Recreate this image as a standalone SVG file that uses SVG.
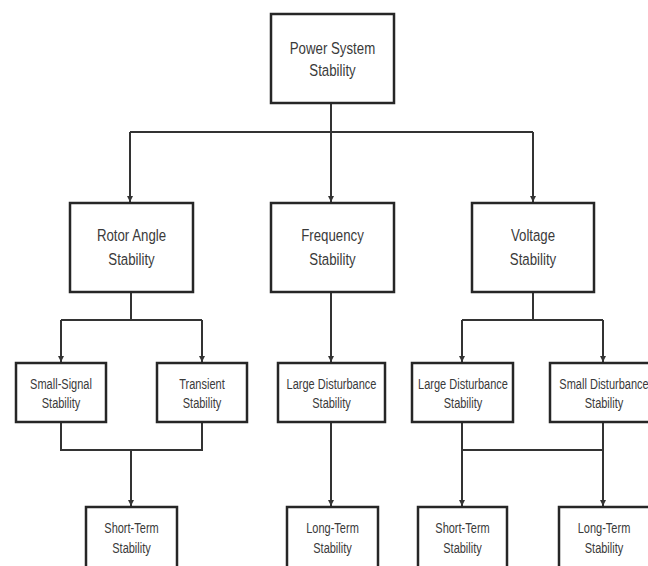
<svg xmlns="http://www.w3.org/2000/svg" width="648" height="566" viewBox="0 0 648 566">
<style>
.box{fill:#fff;stroke:#262626;stroke-width:2.5}
.ln{fill:none;stroke:#333;stroke-width:2}
.t1{font-family:"Liberation Sans",Arial,sans-serif;font-size:17px;fill:#3a3a3a;text-anchor:middle}
.t3{font-family:"Liberation Sans",Arial,sans-serif;font-size:14.5px;fill:#3a3a3a;text-anchor:middle}
</style>
<defs>
<marker id="a" markerWidth="8" markerHeight="8" refX="6" refY="4" orient="auto" markerUnits="userSpaceOnUse" viewBox="0 0 8 8">
<path d="M0,1 L6,4 L0,7 Z" fill="#333"/>
</marker>
</defs>
<rect width="648" height="566" fill="#fff"/>
<g id="connectors">
<path class="ln" d="M331,103 V132 M130,132 H533"/>
<path class="ln" d="M130,132 V202" marker-end="url(#a)"/>
<path class="ln" d="M331,132 V202" marker-end="url(#a)"/>
<path class="ln" d="M533,132 V202" marker-end="url(#a)"/>
<path class="ln" d="M131,292 V320 M61,320 H202"/>
<path class="ln" d="M61,320 V362" marker-end="url(#a)"/>
<path class="ln" d="M202,320 V362" marker-end="url(#a)"/>
<path class="ln" d="M331,292 V362" marker-end="url(#a)"/>
<path class="ln" d="M533,292 V320 M462,320 H603"/>
<path class="ln" d="M462,320 V362" marker-end="url(#a)"/>
<path class="ln" d="M603,320 V362" marker-end="url(#a)"/>
<path class="ln" d="M61,422 V450 H202 V422"/>
<path class="ln" d="M131,450 V506" marker-end="url(#a)"/>
<path class="ln" d="M331,422 V506" marker-end="url(#a)"/>
<path class="ln" d="M462,422 V506" marker-end="url(#a)"/>
<path class="ln" d="M603,422 V506" marker-end="url(#a)"/>
<path class="ln" d="M462,450 H603"/>
</g>
<g id="power-system-stability">
<rect class="box" x="271" y="14" width="123" height="89"/>
<text class="t1" transform="translate(332.5 0) scale(0.78 1)"><tspan x="0" y="54">Power System</tspan><tspan x="0" y="76">Stability</tspan></text>
</g>
<g id="rotor-angle-stability">
<rect class="box" x="70" y="203" width="123" height="89"/>
<text class="t1" transform="translate(131.5 0) scale(0.78 1)"><tspan x="0" y="241">Rotor Angle</tspan><tspan x="0" y="265">Stability</tspan></text>
</g>
<g id="frequency-stability">
<rect class="box" x="271" y="203" width="123" height="89"/>
<text class="t1" transform="translate(332.5 0) scale(0.78 1)"><tspan x="0" y="241">Frequency</tspan><tspan x="0" y="265">Stability</tspan></text>
</g>
<g id="voltage-stability">
<rect class="box" x="472" y="203" width="122" height="89"/>
<text class="t1" transform="translate(533 0) scale(0.78 1)"><tspan x="0" y="241">Voltage</tspan><tspan x="0" y="265">Stability</tspan></text>
</g>
<g id="small-signal-stability">
<rect class="box" x="16" y="363" width="90" height="59"/>
<text class="t3" transform="translate(61 0) scale(0.76 1)"><tspan x="0" y="389">Small-Signal</tspan><tspan x="0" y="408">Stability</tspan></text>
</g>
<g id="transient-stability">
<rect class="box" x="157" y="363" width="90" height="59"/>
<text class="t3" transform="translate(202 0) scale(0.76 1)"><tspan x="0" y="389">Transient</tspan><tspan x="0" y="408">Stability</tspan></text>
</g>
<g id="freq-large-disturbance">
<rect class="box" x="278" y="363" width="107" height="59"/>
<text class="t3" transform="translate(331.5 0) scale(0.76 1)"><tspan x="0" y="389">Large Disturbance</tspan><tspan x="0" y="408">Stability</tspan></text>
</g>
<g id="volt-large-disturbance">
<rect class="box" x="412" y="363" width="101" height="59"/>
<text class="t3" transform="translate(463 0) scale(0.76 1)"><tspan x="0" y="389">Large Disturbance</tspan><tspan x="0" y="408">Stability</tspan></text>
</g>
<g id="volt-small-disturbance">
<rect class="box" x="550" y="363" width="110" height="59"/>
<text class="t3" transform="translate(604 0) scale(0.76 1)"><tspan x="0" y="389">Small Disturbance</tspan><tspan x="0" y="408">Stability</tspan></text>
</g>
<g id="rotor-short-term">
<rect class="box" x="86" y="507" width="91" height="70"/>
<text class="t3" transform="translate(131.5 0) scale(0.76 1)"><tspan x="0" y="533">Short-Term</tspan><tspan x="0" y="553">Stability</tspan></text>
</g>
<g id="freq-long-term">
<rect class="box" x="287" y="507" width="91" height="70"/>
<text class="t3" transform="translate(332.5 0) scale(0.76 1)"><tspan x="0" y="533">Long-Term</tspan><tspan x="0" y="553">Stability</tspan></text>
</g>
<g id="volt-short-term">
<rect class="box" x="418" y="507" width="89" height="70"/>
<text class="t3" transform="translate(462.5 0) scale(0.76 1)"><tspan x="0" y="533">Short-Term</tspan><tspan x="0" y="553">Stability</tspan></text>
</g>
<g id="volt-long-term">
<rect class="box" x="559" y="507" width="95" height="70"/>
<text class="t3" transform="translate(604 0) scale(0.76 1)"><tspan x="0" y="533">Long-Term</tspan><tspan x="0" y="553">Stability</tspan></text>
</g>
</svg>
